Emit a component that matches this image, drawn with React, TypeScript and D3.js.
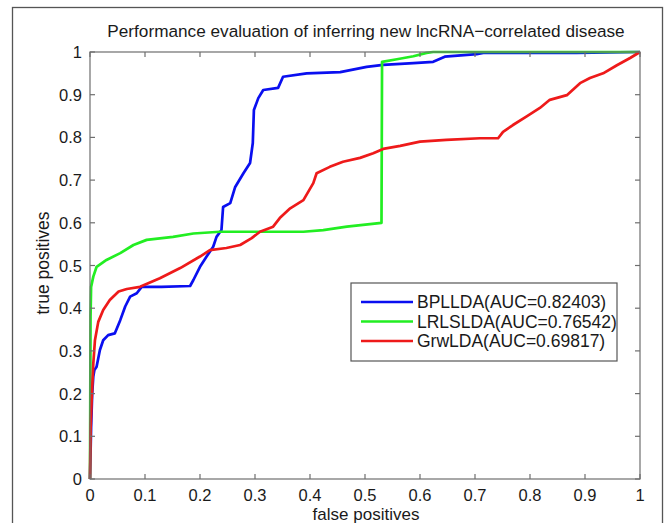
import React from "react";
import * as d3 from "d3";

const title = "Performance evaluation of inferring new lncRNA\u2212correlated disease";
const xLabel = "false positives";
const yLabel = "true positives";
const tickValues = [0, 0.1, 0.2, 0.3, 0.4, 0.5, 0.6, 0.7, 0.8, 0.9, 1];
const tickLabels = ["0", "0.1", "0.2", "0.3", "0.4", "0.5", "0.6", "0.7", "0.8", "0.9", "1"];

const seriesNames = ["BPLLDA(AUC=0.82403)", "LRLSLDA(AUC=0.76542)", "GrwLDA(AUC=0.69817)"];
const seriesColors = ["#0a0ff0", "#22ee22", "#ee1a1a"];

const bplldaFpr = [0, 0.002, 0.004, 0.006, 0.008, 0.012, 0.018, 0.024, 0.033, 0.045, 0.055, 0.064, 0.073, 0.085, 0.094, 0.13, 0.182, 0.188, 0.2, 0.212, 0.224, 0.23, 0.239, 0.242, 0.255, 0.264, 0.279, 0.291, 0.296, 0.298, 0.306, 0.315, 0.342, 0.351, 0.394, 0.455, 0.503, 0.533, 0.588, 0.624, 0.645, 0.703, 0.715, 0.885, 1];
const bplldaTpr = [0, 0.12, 0.2, 0.24, 0.255, 0.263, 0.302, 0.325, 0.337, 0.341, 0.372, 0.404, 0.427, 0.435, 0.45, 0.45, 0.452, 0.466, 0.497, 0.521, 0.544, 0.567, 0.583, 0.637, 0.646, 0.684, 0.716, 0.74, 0.787, 0.864, 0.892, 0.911, 0.916, 0.942, 0.95, 0.953, 0.965, 0.97, 0.974, 0.977, 0.989, 0.995, 0.998, 0.998, 1];

const lrlsldaFpr = [0, 0.001, 0.002, 0.006, 0.012, 0.03, 0.055, 0.079, 0.103, 0.151, 0.188, 0.236, 0.388, 0.424, 0.467, 0.53, 0.531, 0.558, 0.588, 0.612, 0.624, 1];
const lrlsldaTpr = [0, 0.38, 0.45, 0.474, 0.497, 0.513, 0.529, 0.548, 0.56, 0.567, 0.575, 0.579, 0.579, 0.583, 0.591, 0.6, 0.977, 0.983, 0.99, 0.998, 1, 1];

const grwldaFpr = [0, 0.001, 0.003, 0.006, 0.009, 0.015, 0.024, 0.036, 0.052, 0.067, 0.091, 0.127, 0.164, 0.2, 0.218, 0.248, 0.273, 0.294, 0.309, 0.333, 0.345, 0.364, 0.388, 0.406, 0.412, 0.436, 0.46, 0.491, 0.515, 0.533, 0.564, 0.6, 0.648, 0.709, 0.742, 0.751, 0.769, 0.794, 0.818, 0.836, 0.867, 0.891, 0.909, 0.933, 0.958, 0.982, 1];
const grwldaTpr = [0, 0.115, 0.185, 0.27, 0.325, 0.368, 0.396, 0.419, 0.439, 0.445, 0.45, 0.47, 0.494, 0.521, 0.536, 0.541, 0.548, 0.564, 0.579, 0.591, 0.611, 0.634, 0.653, 0.693, 0.716, 0.731, 0.743, 0.752, 0.763, 0.773, 0.78, 0.79, 0.794, 0.798, 0.798, 0.813, 0.829, 0.849, 0.869, 0.888, 0.899, 0.927, 0.939, 0.95, 0.969, 0.986, 1];

const seriesFpr = [bplldaFpr, lrlsldaFpr, grwldaFpr];
const seriesTpr = [bplldaTpr, lrlsldaTpr, grwldaTpr];

const W = 667;
const H = 523;
const left = 90;
const right = 640;
const top = 52;
const bottom = 479;
const font = "'Liberation Sans', Arial, sans-serif";
const axisColor = "#6e6e6e";
const textColor = "#1a1a1a";

export default function App() {
  const x = d3.scaleLinear().domain([0, 1]).range([left, right]);
  const y = d3.scaleLinear().domain([0, 1]).range([bottom, top]);
  const line = d3
    .line<[number, number]>()
    .x((d) => x(d[0]))
    .y((d) => y(d[1]));
  const tl = 5;

  return (
    <svg
      width={W}
      height={H}
      style={{ position: "absolute", left: 0, top: 0, background: "#fff" }}
    >
      <rect x={0} y={0} width={W} height={H} fill="#fff" />
      <rect x={12.5} y={7.5} width={650} height={540} fill="none" stroke="#555" strokeWidth={1.3} />
      <text x={366} y={37} textAnchor="middle" fontFamily={font} fontSize={17.2} fill={textColor}>
        {title}
      </text>
      <defs>
        <clipPath id="clip">
          <rect x={left - 2} y={top - 2} width={right - left + 4} height={bottom - top + 4} />
        </clipPath>
      </defs>
      <g clipPath="url(#clip)">
        {seriesFpr.map((fx, i) => (
          <path
            key={i}
            d={line(fx.map((v, j) => [v, seriesTpr[i][j]] as [number, number])) || ""}
            fill="none"
            stroke={seriesColors[i]}
            strokeWidth={2.7}
            strokeLinejoin="round"
          />
        ))}
      </g>
      <rect x={left} y={top} width={right - left} height={bottom - top} fill="none" stroke={axisColor} strokeWidth={1.2} />
      {tickValues.map((t, i) => (
        <g key={"t" + i}>
          <line x1={x(t)} x2={x(t)} y1={bottom} y2={bottom - tl} stroke={axisColor} strokeWidth={1.2} />
          <line x1={x(t)} x2={x(t)} y1={top} y2={top + tl} stroke={axisColor} strokeWidth={1.2} />
          <line x1={left} x2={left + tl} y1={y(t)} y2={y(t)} stroke={axisColor} strokeWidth={1.2} />
          <line x1={right} x2={right - tl} y1={y(t)} y2={y(t)} stroke={axisColor} strokeWidth={1.2} />
          <text x={x(t)} y={bottom + 22} textAnchor="middle" fontFamily={font} fontSize={16.5} fill={textColor}>
            {tickLabels[i]}
          </text>
          <text x={left - 8} y={y(t) + 6} textAnchor="end" fontFamily={font} fontSize={16.5} fill={textColor}>
            {tickLabels[i]}
          </text>
        </g>
      ))}
      <text x={366} y={520} textAnchor="middle" fontFamily={font} fontSize={17} fill={textColor}>
        {xLabel}
      </text>
      <text
        transform={`translate(49, 263) rotate(-90)`}
        textAnchor="middle"
        fontFamily={font}
        fontSize={17.5}
        fill={textColor}
      >
        {yLabel}
      </text>
      <g>
        <rect x={351} y={283} width={266} height={78} fill="#fff" stroke="#555" strokeWidth={1.2} />
        {seriesNames.map((n, i) => (
          <g key={"l" + i}>
            <line x1={361} x2={413} y1={302 + i * 19.5} y2={302 + i * 19.5} stroke={seriesColors[i]} strokeWidth={2.7} />
            <text x={417} y={302 + i * 19.5 + 6} fontFamily={font} fontSize={17.5} fill={textColor}>
              {n}
            </text>
          </g>
        ))}
      </g>
    </svg>
  );
}
